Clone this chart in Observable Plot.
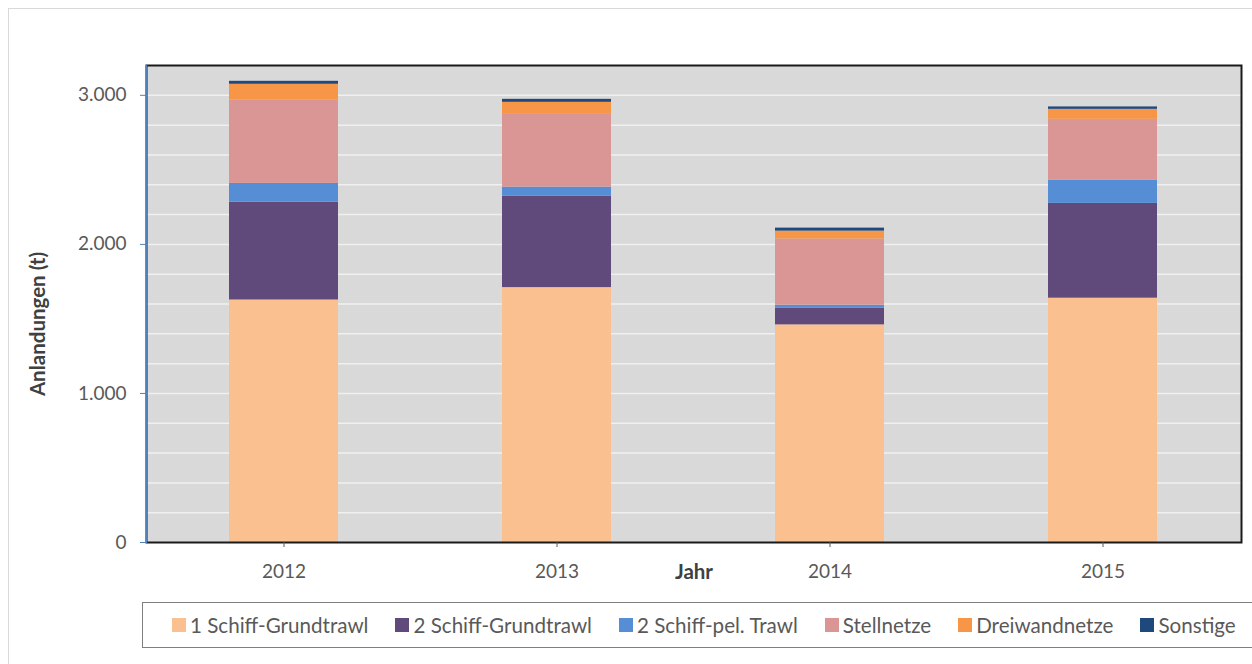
<!DOCTYPE html>
<html>
<head>
<meta charset="utf-8">
<script src="https://cdn.jsdelivr.net/npm/d3@7"></script>
<script src="https://cdn.jsdelivr.net/npm/@observablehq/plot@0.6"></script>
<style>
  html, body { margin: 0; padding: 0; background: #fff; }
  #wrap { position: relative; width: 1252px; height: 664px; overflow: hidden; font-family: Lato, "Open Sans", sans-serif; }
  #outer { position: absolute; left: 8px; top: 8px; width: 1260px; height: 700px; border: 1px solid #d9d9d9; box-sizing: border-box; }
  #chart { position: absolute; left: 0; top: 0; }
  #legend { position: absolute; left: 142px; top: 602px; width: 1120px; height: 46px; box-sizing: border-box;
            border: 1.5px solid #7f7f7f; background: #fff; display: flex; align-items: center; padding-left: 29px; gap: 27px; }
  .item { display: flex; align-items: center; font-size: 20.6px; color: #595959; white-space: nowrap; }
  .sw { width: 14px; height: 14px; margin-right: 4px; display: inline-block; }
</style>
</head>
<body>
<div id="wrap">
  <div id="outer"></div>
  <div id="chart"></div>
  <div id="legend"></div>
</div>
<script>
const years = ["2012", "2013", "2014", "2015"];
const gears = ["1 Schiff-Grundtrawl", "2 Schiff-Grundtrawl", "2 Schiff-pel. Trawl", "Stellnetze", "Dreiwandnetze", "Sonstige"];
const gearColors = ["#fac090", "#604a7b", "#558ed5", "#d99694", "#f79646", "#1f497d"];

const einSchiffGrundtrawl = [1627, 1710, 1460, 1639];
const zweiSchiffGrundtrawl = [656, 614, 111, 636];
const zweiSchiffPelTrawl = [126, 60, 21, 156];
const stellnetze = [558, 493, 444, 408];
const dreiwandnetze = [107, 76, 53, 67];
const sonstige = [20, 20, 20, 16];

const yTicks = [0, 1000, 2000, 3000];
const gridValues = [200, 400, 600, 800, 1000, 1200, 1400, 1600, 1800, 2000, 2200, 2400, 2600, 2800, 3000];
const yLabel = "Anlandungen (t)";
const xLabel = "Jahr";

const series = [einSchiffGrundtrawl, zweiSchiffGrundtrawl, zweiSchiffPelTrawl, stellnetze, dreiwandnetze, sonstige];
const data = [];
years.forEach((year, i) => {
  gears.forEach((gear, g) => data.push({year, gear, value: series[g][i]}));
});

const de = d3.formatLocale({decimal: ",", thousands: ".", grouping: [3], currency: ["", " €"]});
const fmt = de.format(",d");

const chart = Plot.plot({
  width: 1252,
  height: 600,
  marginLeft: 146,
  marginRight: 11,
  marginTop: 65,
  marginBottom: 58,
  style: {fontFamily: "Lato, 'Open Sans', sans-serif", background: "transparent"},
  x: {domain: years, paddingInner: 0.6, paddingOuter: 0.3, axis: null},
  y: {domain: [0, 3200], axis: null},
  color: {domain: gears, range: gearColors},
  marks: [
    Plot.frame({fill: "#d9d9d9"}),
    Plot.ruleY(gridValues, {stroke: "#f0f0f0", strokeWidth: 1.5}),
    Plot.barY(data, {x: "year", y: "value", fill: "gear"}),
    Plot.frame({stroke: "#1a1a1a", strokeWidth: 2}),
    Plot.frame({anchor: "left", stroke: "#4f81bd", strokeWidth: 1.5}),
    Plot.axisY(yTicks, {tickSize: 6, stroke: "#4f81bd", text: null, label: null}),
    Plot.axisY(yTicks, {tickSize: 6, tickPadding: 14, tickFormat: fmt, fontSize: 19, fill: "#595959", stroke: "none", label: null}),
    Plot.axisX({tickSize: 5, tickPadding: 17, fontSize: 19, fill: "#595959", stroke: "#595959", label: null}),
    Plot.text([xLabel], {text: d => d, frameAnchor: "bottom", dy: 36, fontSize: 20.5, fontWeight: "bold", fill: "#404040"}),
    Plot.text([yLabel], {text: d => d, frameAnchor: "left", textAnchor: "middle", rotate: -90, dx: -108, dy: 20, fontSize: 20.5, fontWeight: "bold", fill: "#404040"})
  ]
});
document.getElementById("chart").appendChild(chart);

const legend = document.getElementById("legend");
gears.forEach((g, i) => {
  const it = document.createElement("div");
  it.className = "item";
  const sw = document.createElement("span");
  sw.className = "sw";
  sw.style.background = gearColors[i];
  it.appendChild(sw);
  it.appendChild(document.createTextNode(g));
  legend.appendChild(it);
});
</script>
</body>
</html>
